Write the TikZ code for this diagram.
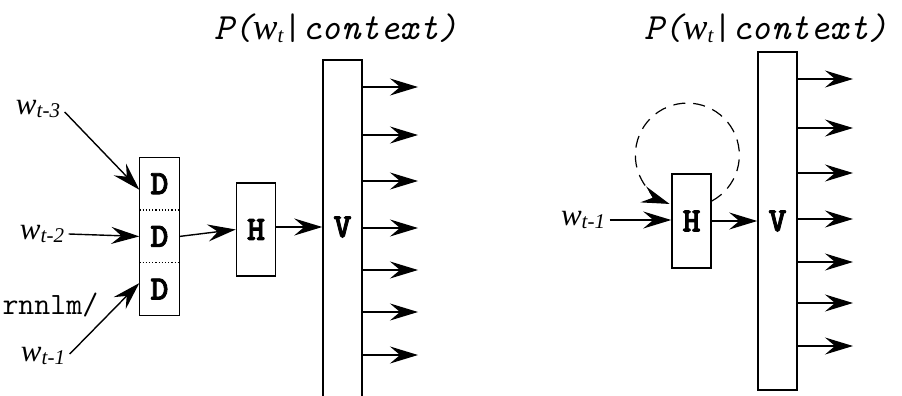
\documentclass[tikz,border=0pt]{standalone}
\usepackage{fontspec}
\setmainfont{Liberation Serif}
\newfontfamily\ttbold{lmmonolt10-bold.otf}[FakeBold=2.5]
\usetikzlibrary{arrows.meta,positioning}

\newcommand{\wsub}[1]{\textit{w}\raisebox{-3pt}{\fontsize{21}{21}\selectfont\itshape #1}}
\newcommand{\ptitle}{{\ttfamily\itshape P(}\textit{w}\raisebox{-3pt}{\fontsize{21}{21}\selectfont\itshape t}{\ttfamily|\itshape context)}}

\begin{document}
\begin{tikzpicture}[x=1pt,y=-1pt,line width=1.4pt,
  >={Stealth[length=28pt,width=17pt,inset=10pt]},
  layer/.style={draw,line width=1.5pt,minimum width=39pt,inner sep=0pt,
    font=\ttbold\fontsize{34}{36}\selectfont},
  cell/.style={minimum width=39pt,minimum height=51.3pt,inner sep=0pt,
    font=\ttbold\fontsize{34}{36}\selectfont},
  word/.style={inner sep=0pt,font=\fontsize{31}{33}\selectfont},
  title/.style={inner sep=0pt,font=\fontsize{37}{39}\selectfont}]

  \useasboundingbox (0,0) rectangle (902,396);

  % left: feedforward model
  \node[title] (tl) at (336,28) {\ptitle};

  \node[cell] (d1) at (159.5,183.7) {D};
  \node[cell] (d2) [below=0pt of d1] {D};
  \node[cell] (d3) [below=0pt of d2] {D};
  \draw[line width=1.5pt] (d1.north west) rectangle (d3.south east);
  \draw[dotted,line width=1.2pt] (d1.south west) -- (d1.south east);
  \draw[dotted,line width=1.2pt] (d2.south west) -- (d2.south east);

  \node[layer,minimum height=93pt] (hl) at (256,229.5) {H};
  \node[layer,minimum height=360pt] (vl) at (342.5,240) {};
  \node[cell] (vltxt) at (342.5,227) {V};

  \node[word] (wt3) at (38,109) {\wsub{t-3}};
  \node[word] (wt2) at (42,234) {\wsub{t-2}};
  \node[word] (wt1) at (43,356) {\wsub{t-1}};
  \node[inner sep=0pt,anchor=east,font=\ttfamily\fontsize{31}{33}\selectfont]
    (path) at (99,305) {rnnlm/};

  \draw[->] ([xshift=4pt,yshift=-3pt]wt3.east) -- ([yshift=-6pt]d1.west);
  \draw[->] ([xshift=4pt]wt2.east) -- (d2.west);
  \draw[->] ([xshift=4pt,yshift=2pt]wt1.east) -- ([yshift=6pt]d3.west);
  \draw[->] (d2.east) -- (hl.west);
  \draw[->] (hl.east |- vltxt) -- (vl.west |- vltxt);

  \foreach \y [count=\i] in {87,135,181,228,270,312,355}{
    \coordinate (ol\i) at (418,\y);
    \draw[->] (vl.east |- ol\i) -- (ol\i);
  }

  % right: recurrent model
  \node[title] (tr) at (766,28) {\ptitle};

  \node[layer,minimum height=94pt] (hr) at (691.5,221) {H};
  \node[layer,minimum height=338pt] (vr) at (777.5,221) {V};

  \node[word] (wr1) at (583,220) {\wsub{t-1}};
  \draw[->] ([xshift=4pt]wr1.east) -- (hr.west |- wr1);
  \draw[->] (hr.east |- vr) -- (vr.west);

  \draw[dashed,dash pattern=on 12pt off 8pt,line width=1.2pt,->]
    ([yshift=20pt]hr.east) arc[start angle=62,end angle=-250,radius=52];

  \foreach \y [count=\i] in {79,128,173,219,262,303,346}{
    \coordinate (or\i) at (853,\y);
    \draw[->] (vr.east |- or\i) -- (or\i);
  }
\end{tikzpicture}
\end{document}
